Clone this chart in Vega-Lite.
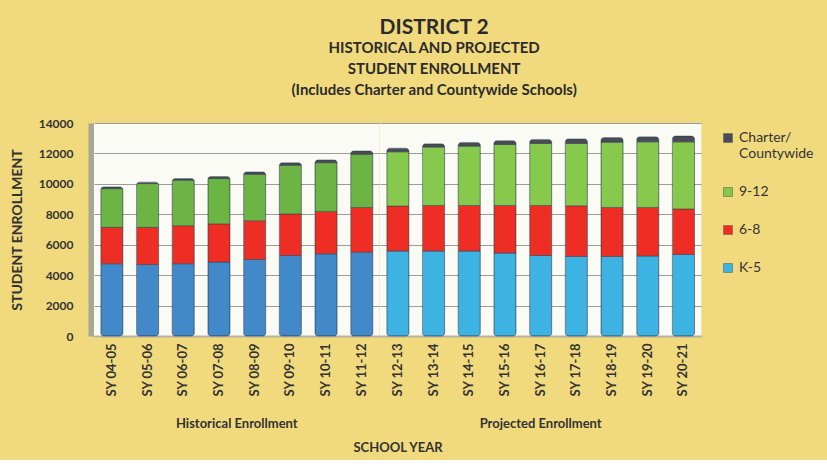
{
  "$schema": "https://vega.github.io/schema/vega-lite/v6.json",
  "background": "#f1da7e",
  "padding": {"left": 10, "top": 17, "right": 5, "bottom": 5},
  "config": {
    "font": "Lato",
    "view": {"fill": "#fbfbf6", "stroke": null}
  },
  "title": {
    "text": "DISTRICT 2",
    "subtitle": ["HISTORICAL AND PROJECTED", "STUDENT ENROLLMENT", "(Includes Charter and Countywide Schools)"],
    "fontSize": 21, "fontWeight": "bold", "color": "#2b2b2b",
    "subtitleFontSize": 15, "subtitleFontWeight": "bold", "subtitleColor": "#2b2b2b",
    "subtitleLineHeight": 21, "subtitlePadding": 3,
    "anchor": "middle", "offset": 19, "dx": 18
  },
  "data": {"values": [
    {"year": "SY 04-05", "period": "Historical Enrollment", "grade": "K-5", "level": 1, "students": 4750},
    {"year": "SY 04-05", "period": "Historical Enrollment", "grade": "6-8", "level": 2, "students": 2390},
    {"year": "SY 04-05", "period": "Historical Enrollment", "grade": "9-12", "level": 3, "students": 2550},
    {"year": "SY 04-05", "period": "Historical Enrollment", "grade": "Charter/Countywide", "level": 4, "students": 110},
    {"year": "SY 05-06", "period": "Historical Enrollment", "grade": "K-5", "level": 1, "students": 4700},
    {"year": "SY 05-06", "period": "Historical Enrollment", "grade": "6-8", "level": 2, "students": 2440},
    {"year": "SY 05-06", "period": "Historical Enrollment", "grade": "9-12", "level": 3, "students": 2880},
    {"year": "SY 05-06", "period": "Historical Enrollment", "grade": "Charter/Countywide", "level": 4, "students": 90},
    {"year": "SY 06-07", "period": "Historical Enrollment", "grade": "K-5", "level": 1, "students": 4750},
    {"year": "SY 06-07", "period": "Historical Enrollment", "grade": "6-8", "level": 2, "students": 2500},
    {"year": "SY 06-07", "period": "Historical Enrollment", "grade": "9-12", "level": 3, "students": 2990},
    {"year": "SY 06-07", "period": "Historical Enrollment", "grade": "Charter/Countywide", "level": 4, "students": 110},
    {"year": "SY 07-08", "period": "Historical Enrollment", "grade": "K-5", "level": 1, "students": 4860},
    {"year": "SY 07-08", "period": "Historical Enrollment", "grade": "6-8", "level": 2, "students": 2510},
    {"year": "SY 07-08", "period": "Historical Enrollment", "grade": "9-12", "level": 3, "students": 2980},
    {"year": "SY 07-08", "period": "Historical Enrollment", "grade": "Charter/Countywide", "level": 4, "students": 130},
    {"year": "SY 08-09", "period": "Historical Enrollment", "grade": "K-5", "level": 1, "students": 5030},
    {"year": "SY 08-09", "period": "Historical Enrollment", "grade": "6-8", "level": 2, "students": 2550},
    {"year": "SY 08-09", "period": "Historical Enrollment", "grade": "9-12", "level": 3, "students": 3050},
    {"year": "SY 08-09", "period": "Historical Enrollment", "grade": "Charter/Countywide", "level": 4, "students": 150},
    {"year": "SY 09-10", "period": "Historical Enrollment", "grade": "K-5", "level": 1, "students": 5290},
    {"year": "SY 09-10", "period": "Historical Enrollment", "grade": "6-8", "level": 2, "students": 2730},
    {"year": "SY 09-10", "period": "Historical Enrollment", "grade": "9-12", "level": 3, "students": 3200},
    {"year": "SY 09-10", "period": "Historical Enrollment", "grade": "Charter/Countywide", "level": 4, "students": 170},
    {"year": "SY 10-11", "period": "Historical Enrollment", "grade": "K-5", "level": 1, "students": 5400},
    {"year": "SY 10-11", "period": "Historical Enrollment", "grade": "6-8", "level": 2, "students": 2790},
    {"year": "SY 10-11", "period": "Historical Enrollment", "grade": "9-12", "level": 3, "students": 3200},
    {"year": "SY 10-11", "period": "Historical Enrollment", "grade": "Charter/Countywide", "level": 4, "students": 180},
    {"year": "SY 11-12", "period": "Historical Enrollment", "grade": "K-5", "level": 1, "students": 5510},
    {"year": "SY 11-12", "period": "Historical Enrollment", "grade": "6-8", "level": 2, "students": 2940},
    {"year": "SY 11-12", "period": "Historical Enrollment", "grade": "9-12", "level": 3, "students": 3490},
    {"year": "SY 11-12", "period": "Historical Enrollment", "grade": "Charter/Countywide", "level": 4, "students": 220},
    {"year": "SY 12-13", "period": "Projected Enrollment", "grade": "K-5", "level": 1, "students": 5580},
    {"year": "SY 12-13", "period": "Projected Enrollment", "grade": "6-8", "level": 2, "students": 2960},
    {"year": "SY 12-13", "period": "Projected Enrollment", "grade": "9-12", "level": 3, "students": 3570},
    {"year": "SY 12-13", "period": "Projected Enrollment", "grade": "Charter/Countywide", "level": 4, "students": 230},
    {"year": "SY 13-14", "period": "Projected Enrollment", "grade": "K-5", "level": 1, "students": 5580},
    {"year": "SY 13-14", "period": "Projected Enrollment", "grade": "6-8", "level": 2, "students": 3000},
    {"year": "SY 13-14", "period": "Projected Enrollment", "grade": "9-12", "level": 3, "students": 3840},
    {"year": "SY 13-14", "period": "Projected Enrollment", "grade": "Charter/Countywide", "level": 4, "students": 210},
    {"year": "SY 14-15", "period": "Projected Enrollment", "grade": "K-5", "level": 1, "students": 5580},
    {"year": "SY 14-15", "period": "Projected Enrollment", "grade": "6-8", "level": 2, "students": 3000},
    {"year": "SY 14-15", "period": "Projected Enrollment", "grade": "9-12", "level": 3, "students": 3900},
    {"year": "SY 14-15", "period": "Projected Enrollment", "grade": "Charter/Countywide", "level": 4, "students": 240},
    {"year": "SY 15-16", "period": "Projected Enrollment", "grade": "K-5", "level": 1, "students": 5450},
    {"year": "SY 15-16", "period": "Projected Enrollment", "grade": "6-8", "level": 2, "students": 3130},
    {"year": "SY 15-16", "period": "Projected Enrollment", "grade": "9-12", "level": 3, "students": 4010},
    {"year": "SY 15-16", "period": "Projected Enrollment", "grade": "Charter/Countywide", "level": 4, "students": 250},
    {"year": "SY 16-17", "period": "Projected Enrollment", "grade": "K-5", "level": 1, "students": 5290},
    {"year": "SY 16-17", "period": "Projected Enrollment", "grade": "6-8", "level": 2, "students": 3290},
    {"year": "SY 16-17", "period": "Projected Enrollment", "grade": "9-12", "level": 3, "students": 4080},
    {"year": "SY 16-17", "period": "Projected Enrollment", "grade": "Charter/Countywide", "level": 4, "students": 260},
    {"year": "SY 17-18", "period": "Projected Enrollment", "grade": "K-5", "level": 1, "students": 5230},
    {"year": "SY 17-18", "period": "Projected Enrollment", "grade": "6-8", "level": 2, "students": 3330},
    {"year": "SY 17-18", "period": "Projected Enrollment", "grade": "9-12", "level": 3, "students": 4100},
    {"year": "SY 17-18", "period": "Projected Enrollment", "grade": "Charter/Countywide", "level": 4, "students": 290},
    {"year": "SY 18-19", "period": "Projected Enrollment", "grade": "K-5", "level": 1, "students": 5230},
    {"year": "SY 18-19", "period": "Projected Enrollment", "grade": "6-8", "level": 2, "students": 3220},
    {"year": "SY 18-19", "period": "Projected Enrollment", "grade": "9-12", "level": 3, "students": 4290},
    {"year": "SY 18-19", "period": "Projected Enrollment", "grade": "Charter/Countywide", "level": 4, "students": 300},
    {"year": "SY 19-20", "period": "Projected Enrollment", "grade": "K-5", "level": 1, "students": 5260},
    {"year": "SY 19-20", "period": "Projected Enrollment", "grade": "6-8", "level": 2, "students": 3190},
    {"year": "SY 19-20", "period": "Projected Enrollment", "grade": "9-12", "level": 3, "students": 4310},
    {"year": "SY 19-20", "period": "Projected Enrollment", "grade": "Charter/Countywide", "level": 4, "students": 330},
    {"year": "SY 20-21", "period": "Projected Enrollment", "grade": "K-5", "level": 1, "students": 5360},
    {"year": "SY 20-21", "period": "Projected Enrollment", "grade": "6-8", "level": 2, "students": 2990},
    {"year": "SY 20-21", "period": "Projected Enrollment", "grade": "9-12", "level": 3, "students": 4410},
    {"year": "SY 20-21", "period": "Projected Enrollment", "grade": "Charter/Countywide", "level": 4, "students": 380}
  ]},
  "facet": {
    "column": {
      "field": "period", "type": "nominal", "title": "SCHOOL YEAR",
      "sort": ["Historical Enrollment", "Projected Enrollment"],
      "header": {
        "labelOrient": "bottom", "titleOrient": "bottom",
        "labelFontSize": 13, "labelFontWeight": "bold", "labelColor": "#333333",
        "titleFontSize": 13, "titleFontWeight": "bold", "titleColor": "#333333",
        "labelPadding": 21, "titlePadding": 1
      }
    }
  },
  "spacing": 0,
  "resolve": {"scale": {"x": "independent"}},
  "spec": {
    "width": {"step": 35.7},
    "height": 213,
    "mark": {"type": "bar", "cornerRadius": 3, "stroke": "#2d3b48", "strokeWidth": 0.7, "strokeOpacity": 0.7},
    "encoding": {
      "x": {
        "field": "year", "type": "nominal", "title": null,
        "scale": {"paddingInner": 0.38, "paddingOuter": 0.19},
        "axis": {
          "labelAngle": -90, "labelFontSize": 13, "labelFontWeight": "bold", "labelColor": "#333333",
          "ticks": false, "tickSize": 0, "labelPadding": 7, "domainColor": "#b5b3a0", "domainWidth": 2, "grid": false
        }
      },
      "y": {
        "field": "students", "type": "quantitative", "stack": "zero",
        "scale": {"domain": [0, 14000]},
        "title": "STUDENT ENROLLMENT",
        "axis": {
          "values": [0, 2000, 4000, 6000, 8000, 10000, 12000, 14000], "tickCount": 8, "labelOverlap": false, "format": "d",
          "labelFontSize": 12, "labelFontWeight": "bold", "labelColor": "#333333",
          "ticks": false, "tickSize": 0, "labelPadding": 21,
          "domain": true, "domainColor": "#a8a696", "domainWidth": 12,
          "grid": true, "gridColor": "#9c9c9c", "gridWidth": 1,
          "titleFontSize": 14, "titleFontWeight": "bold", "titleColor": "#333333", "titlePadding": 14
        }
      },
      "color": {
        "condition": [
          {"test": "datum.period == 'Historical Enrollment' && datum.grade == 'K-5'", "value": "#4189c9"},
          {"test": "datum.period == 'Historical Enrollment' && datum.grade == '9-12'", "value": "#6cb443"}
        ],
        "field": "grade", "type": "nominal",
        "scale": {
          "domain": ["Charter/Countywide", "9-12", "6-8", "K-5"],
          "range": ["#4b4a58", "#86c94c", "#ee2e24", "#3db3e3"]
        },
        "legend": {
          "title": null, "orient": "right", "offset": 11,
          "labelExpr": "datum.label == 'Charter/Countywide' ? ['Charter/', 'Countywide'] : datum.label",
          "labelFontSize": 14, "labelColor": "#333333", "labelLineHeight": 20,
          "symbolType": "square", "symbolSize": 80, "symbolStrokeColor": "#555555", "symbolStrokeWidth": 0.5,
          "rowPadding": 24, "padding": 8
        }
      },
      "order": {"field": "level", "type": "quantitative", "sort": "ascending"}
    }
  }
}
